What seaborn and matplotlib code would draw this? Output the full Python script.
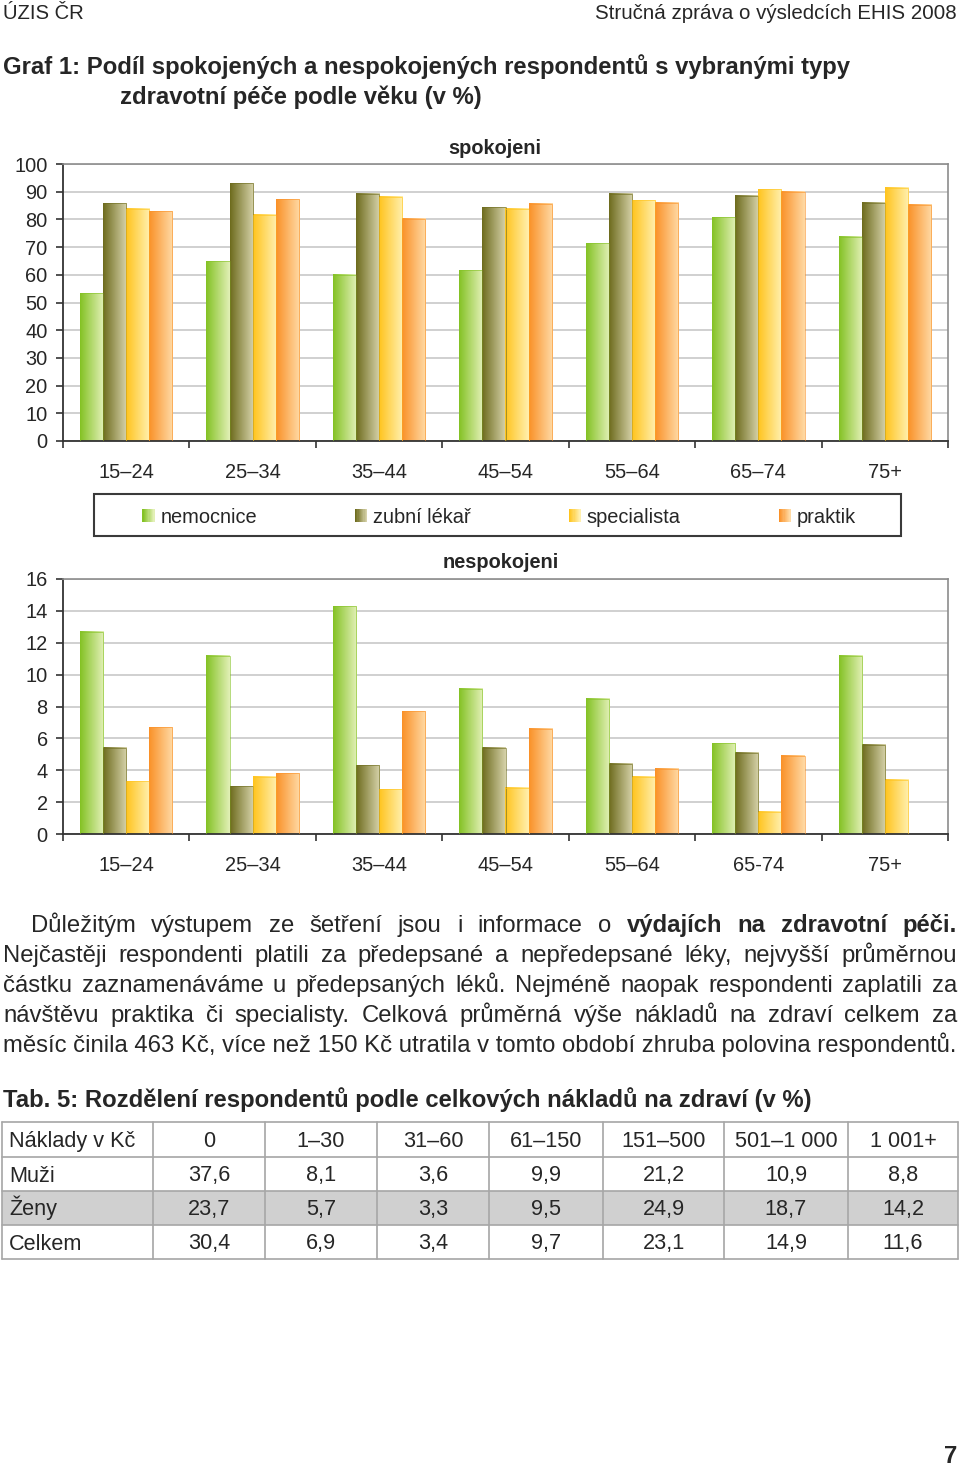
import numpy as np
import pandas as pd
import matplotlib
matplotlib.use('Agg')
import matplotlib.pyplot as plt
import seaborn as sns
from matplotlib.colors import LinearSegmentedColormap
from matplotlib.patches import Rectangle, Patch
from matplotlib.legend_handler import HandlerBase

# --- data ---------------------------------------------------------------
ages_top = ['15–24', '25–34', '35–44', '45–54', '55–64', '65–74', '75+']
ages_bottom = ['15–24', '25–34', '35–44', '45–54', '55–64', '65-74', '75+']
services = ['nemocnice', 'zubní lékař', 'specialista', 'praktik']

# spokojeni (%)
sat_nemocnice = [53.4, 64.9, 60.0, 61.7, 71.4, 80.7, 73.8]
sat_zubni = [85.8, 93.0, 89.2, 84.4, 89.2, 88.6, 86.0]
sat_specialista = [83.9, 81.6, 88.1, 83.9, 87.0, 90.9, 91.5]
sat_praktik = [83.0, 87.3, 80.3, 85.6, 86.0, 89.9, 85.2]

# nespokojeni (%)
dis_nemocnice = [12.7, 11.2, 14.3, 9.1, 8.5, 5.7, 11.2]
dis_zubni = [5.4, 3.0, 4.3, 5.4, 4.4, 5.1, 5.6]
dis_specialista = [3.3, 3.6, 2.8, 2.9, 3.6, 1.4, 3.4]
dis_praktik = [6.7, 3.8, 7.7, 6.6, 4.1, 4.9, np.nan]

# Tab. 5
tab_cols = ['Náklady v Kč', '0', '1–30', '31–60', '61–150', '151–500', '501–1 000', '1 001+']
tab_rows = ['Muži', 'Ženy', 'Celkem']
tab_muzi = [37.6, 8.1, 3.6, 9.9, 21.2, 10.9, 8.8]
tab_zeny = [23.7, 5.7, 3.3, 9.5, 24.9, 18.7, 14.2]
tab_celkem = [30.4, 6.9, 3.4, 9.7, 23.1, 14.9, 11.6]

# gradient colours per service (left dark -> right light)
dark = ['#84c225', '#6e6c1e', '#ffc41e', '#fa9128']
light = ['#e2f0b6', '#d6d2aa', '#fff0af', '#ffdaa5']

CHART_FS = 14.4
BODY_FS = 17.2


def make_df(ages, series):
    rows = []
    for s, vals in zip(services, series):
        for a, v in zip(ages, vals):
            rows.append({'age': a, 'service': s, 'value': v})
    return pd.DataFrame(rows)


df_sat = make_df(ages_top, [sat_nemocnice, sat_zubni, sat_specialista, sat_praktik])
df_dis = make_df(ages_bottom, [dis_nemocnice, dis_zubni, dis_specialista, dis_praktik])

sns.set_style('white')
plt.rcParams['font.family'] = ['Liberation Sans', 'DejaVu Sans']

cmaps = [LinearSegmentedColormap.from_list(s, [d, l]) for s, d, l in zip(services, dark, light)]
mids = [c(0.5) for c in cmaps]

fig = plt.figure(figsize=(9.6, 14.67), dpi=100)
page = fig.add_axes([0, 0, 1, 1])
page.set_xlim(0, 960)
page.set_ylim(1467, 0)
page.axis('off')

W, H = 960, 1467


def chart(df, top, bottom, ymax, step):
    ax = fig.add_axes([63 / W, 1 - bottom / H, 885 / W, (bottom - top) / H])
    sns.barplot(data=df, x='age', y='value', hue='service', hue_order=services,
                palette=mids, saturation=1, width=0.73, legend=False, ax=ax)
    grad = np.linspace(0, 1, 64).reshape(1, -1)
    for cont, cmap, d in zip(ax.containers, cmaps, dark):
        for bar in cont:
            h = bar.get_height()
            if not np.isfinite(h) or h <= 0:
                continue
            x, w = bar.get_x(), bar.get_width()
            ax.imshow(grad, extent=[x, x + w, 0, h], aspect='auto', cmap=cmap,
                      zorder=2, interpolation='bilinear')
            bar.set_facecolor('none')
            bar.set_edgecolor(d)
            bar.set_alpha(0.6)
            bar.set_linewidth(0.7)
            bar.set_zorder(3)
    ax.set_xlim(-0.5, 6.5)
    ax.set_ylim(0, ymax)
    ax.set_yticks(np.arange(0, ymax + 1, step))
    ax.set_xticks(np.arange(-0.5, 7, 1), minor=True)
    ax.yaxis.grid(True, color='#c4c4c4', lw=1.1)
    ax.set_axisbelow(True)
    ax.set_xlabel('')
    ax.set_ylabel('')
    for side in ['top', 'right']:
        ax.spines[side].set_color('#8c8c8c')
        ax.spines[side].set_linewidth(1.2)
    for side in ['left', 'bottom']:
        ax.spines[side].set_color('#333333')
        ax.spines[side].set_linewidth(1.3)
    ax.tick_params(axis='y', left=True, length=5, width=1.2, color='#333333', pad=6,
                   labelsize=CHART_FS)
    ax.tick_params(axis='x', which='major', length=0, pad=15.5, labelsize=CHART_FS)
    ax.tick_params(axis='x', which='minor', bottom=True, length=5, width=1.2, color='#333333')
    return ax


ax1 = chart(df_sat, 164, 441, 100, 10)
ax2 = chart(df_dis, 579, 834, 16, 2)

page.text(495, 148, 'spokojeni', ha='center', va='center', fontsize=CHART_FS, fontweight='bold')
page.text(501, 563, 'nespokojeni', ha='center', va='center', fontsize=CHART_FS, fontweight='bold')


# legend with gradient squares
class GradientHandler(HandlerBase):
    def __init__(self, cmap):
        super().__init__()
        self.cmap = cmap

    def create_artists(self, legend, orig_handle, xdescent, ydescent, width, height, fontsize, trans):
        n = 10
        arts = []
        for i in range(n):
            r = Rectangle((-xdescent + width * i / n, -ydescent), width / n + 0.3, height,
                          facecolor=self.cmap(i / (n - 1)), edgecolor='none', transform=trans)
            arts.append(r)
        return arts


handles = [Patch(facecolor=m) for m in mids]
page.add_patch(Rectangle((94, 494), 807, 42, fill=False, ec='#3a3a3a', lw=1.5))
fig.legend(handles, services, loc='center', bbox_to_anchor=(499 / W, 1 - 517 / H),
           ncol=4, frameon=False, columnspacing=4.9, handlelength=0.6, handleheight=0.65,
           handletextpad=0.3, fontsize=CHART_FS,
           handler_map={h: GradientHandler(c) for h, c in zip(handles, cmaps)})

# header and titles
page.text(3, 19, 'ÚZIS ČR', fontsize=14.6, va='baseline')
page.text(957, 19, 'Stručná zpráva o výsledcích EHIS 2008', fontsize=14.8, va='baseline', ha='right')
page.text(3, 74, 'Graf 1: Podíl spokojených a nespokojených respondentů s vybranými typy',
          fontsize=BODY_FS, fontweight='bold', va='baseline')
page.text(120, 104, 'zdravotní péče podle věku (v %)', fontsize=BODY_FS, fontweight='bold',
          va='baseline')

# paragraph (justified)
renderer = fig.canvas.get_renderer()


def text_width(s, weight='normal'):
    t = page.text(0, 0, s, fontsize=BODY_FS, fontweight=weight)
    w = t.get_window_extent(renderer).width
    t.remove()
    return w


def put_line(words, y, x0, x1, justify=True):
    if justify:
        widths = [text_width(w, wt) for w, wt in words]
        gap = (x1 - x0 - sum(widths)) / (len(words) - 1)
        x = x0
        for (w, wt), wd in zip(words, widths):
            page.text(x, y, w, fontsize=BODY_FS, fontweight=wt, va='baseline')
            x += wd + gap
    else:
        page.text(x0, y, ' '.join(w for w, _ in words), fontsize=BODY_FS, va='baseline')


def words_of(s, weight='normal'):
    return [(w, weight) for w in s.split()]


lines = [
    (words_of('Důležitým výstupem ze šetření jsou i informace o')
     + words_of('výdajích na zdravotní péči.', 'bold'), 31, True),
    (words_of('Nejčastěji respondenti platili za předepsané a nepředepsané léky, nejvyšší průměrnou'), 3, True),
    (words_of('částku zaznamenáváme u předepsaných léků. Nejméně naopak respondenti zaplatili za'), 3, True),
    (words_of('návštěvu praktika či specialisty. Celková průměrná výše nákladů na zdraví celkem za'), 3, True),
    (words_of('měsíc činila 463 Kč, více než 150 Kč utratila v tomto období zhruba polovina respondentů.'), 3, False),
]
for i, (ws, x0, just) in enumerate(lines):
    put_line(ws, 932 + 30 * i, x0, 957, just)

# table
page.text(3, 1107, 'Tab. 5: Rozdělení respondentů podle celkových nákladů na zdraví (v %)',
          fontsize=BODY_FS, fontweight='bold', va='baseline')
xs = [2, 153, 265, 377, 489, 603, 724, 848, 958]
ys = [1122, 1157, 1191, 1225, 1259]
page.add_patch(Rectangle((xs[0], ys[2]), xs[-1] - xs[0], ys[3] - ys[2], color='#d0d0d0', lw=0))
for x in xs:
    page.plot([x, x], [ys[0], ys[-1]], color='#a6a6a6', lw=1.2)
for y in ys:
    page.plot([xs[0], xs[-1]], [y, y], color='#a6a6a6', lw=1.2)

TAB_FS = 15.6
table_rows = [tab_cols] + [[name] + [f'{v:.1f}'.replace('.', ',') for v in vals]
                           for name, vals in zip(tab_rows, [tab_muzi, tab_zeny, tab_celkem])]
for r, row in enumerate(table_rows):
    yb = (ys[r] + ys[r + 1]) / 2 + 7.5
    for c, cell in enumerate(row):
        if c == 0:
            page.text(xs[0] + 7, yb, cell, fontsize=TAB_FS, va='baseline')
        else:
            page.text((xs[c] + xs[c + 1]) / 2, yb, cell, fontsize=TAB_FS, va='baseline',
                      ha='center')

page.text(951, 1463, '7', fontsize=BODY_FS, fontweight='bold', ha='center', va='baseline')

fig.savefig('out.png', dpi=100)
